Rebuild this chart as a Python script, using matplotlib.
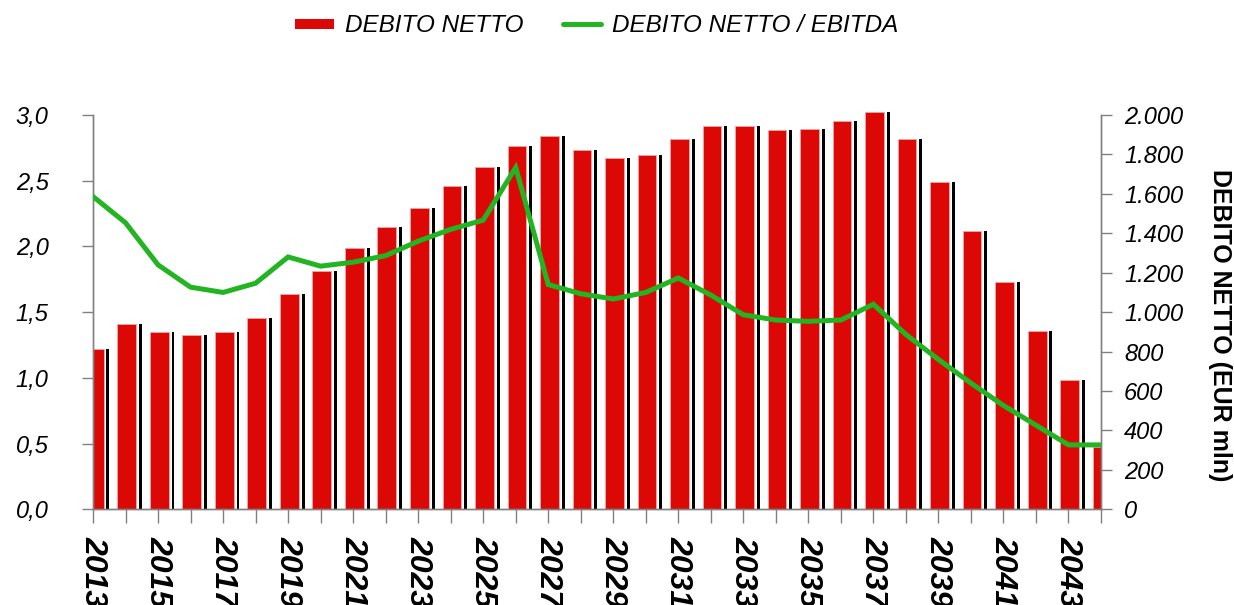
import numpy as np
import matplotlib
matplotlib.use("Agg")
import matplotlib.pyplot as plt
from matplotlib.lines import Line2D
from matplotlib.patches import Rectangle
from matplotlib.ticker import FixedLocator, FuncFormatter

plt.rcParams["font.family"] = ["Liberation Sans", "DejaVu Sans"]

# Net debt (EUR mln) and net debt / EBITDA, 2013-2044
years = list(range(2013, 2045))
net_debt = [811, 938, 898, 883, 898, 969, 1092, 1209, 1325, 1432, 1527, 1641,
            1735, 1844, 1893, 1821, 1780, 1797, 1877, 1946, 1946, 1922, 1929,
            1970, 2017, 1877, 1660, 1410, 1153, 906, 656, 316]
debt_ebitda = [2.38, 2.18, 1.86, 1.69, 1.65, 1.72, 1.92, 1.85, 1.88, 1.93,
               2.04, 2.13, 2.20, 2.60, 1.71, 1.64, 1.60, 1.65, 1.76, 1.63,
               1.48, 1.44, 1.43, 1.44, 1.56, 1.33, 1.14, 0.96, 0.79, 0.64,
               0.49, 0.49]
left_ticks = [0.0, 0.5, 1.0, 1.5, 2.0, 2.5, 3.0]
right_ticks = [0, 200, 400, 600, 800, 1000, 1200, 1400, 1600, 1800, 2000]

RED = "#DC0806"
GREEN = "#22B422"
GREY = "#808080"

fig = plt.figure(figsize=(12.34, 6.05), dpi=100)
ax = fig.add_axes([93 / 1234, 1 - 509.3 / 605, (1101 - 93) / 1234, (509.3 - 115) / 605])
ax2 = ax.twinx()

x = np.arange(len(years))

# bars on the right-hand scale, allowed to poke slightly above the top
clip = Rectangle((0, -0.05), 1, 1.1, transform=ax2.transAxes)
red_bars = ax2.bar(x + 0.037, net_debt, width=0.575, color=RED,
                   edgecolor="#F2A6A6", linewidth=0.6, zorder=2)
black_bars = ax2.bar(x + 0.46, net_debt, width=0.09, color="black",
                     linewidth=0, zorder=2)
for p in list(red_bars) + list(black_bars):
    p.set_clip_path(clip)

# ratio line on the left-hand scale, drawn above the bars
ax.plot(x, debt_ebitda, color=GREEN, lw=3.6, solid_joinstyle="miter", zorder=3)
ax.set_zorder(ax2.get_zorder() + 1)
ax.patch.set_visible(False)

ax.set_xlim(0, len(years) - 1)
ax.set_ylim(0, 3.0)
ax2.set_ylim(0, 2000)

# axes styling
for a in (ax, ax2):
    a.spines["top"].set_visible(False)
    for s in ("left", "right", "bottom"):
        a.spines[s].set_color(GREY)
        a.spines[s].set_linewidth(1.0)

ax.xaxis.set_major_locator(FixedLocator(x))
ax.set_xticklabels([str(y) if i % 2 == 0 else "" for i, y in enumerate(years)],
                   rotation=270, fontsize=23, fontweight="bold", style="italic")
ax.tick_params(axis="x", length=10, width=1, color=GREY, pad=9)

ax.yaxis.set_major_locator(FixedLocator(left_ticks))
ax.yaxis.set_major_formatter(FuncFormatter(lambda v, p: f"{v:.1f}".replace(".", ",")))
ax.tick_params(axis="y", length=8, width=1, color=GREY, pad=24, labelsize=17)
for t in ax.get_yticklabels():
    t.set_style("italic")

ax2.yaxis.set_major_locator(FixedLocator(right_ticks))
ax2.yaxis.set_major_formatter(FuncFormatter(lambda v, p: f"{int(v):,}".replace(",", ".")))
ax2.tick_params(axis="y", length=8, width=1, color=GREY, pad=8.5, labelsize=17)
for t in ax2.get_yticklabels():
    t.set_style("italic")

fig.text(1220 / 1234, 1 - 325 / 605, "DEBITO NETTO (EUR mln)", rotation=270,
         ha="center", va="center", fontsize=18, fontweight="bold")

handles = [Line2D([], [], color=RED, lw=7.2, solid_capstyle="butt"),
           Line2D([], [], color=GREEN, lw=3.6, solid_capstyle="round")]
fig.legend(handles, ["DEBITO NETTO", "DEBITO NETTO / EBITDA"], loc="center",
           bbox_to_anchor=(597 / 1234, 1 - 26 / 605), ncol=2, frameon=False,
           prop={"size": 17.5, "style": "italic"}, handlelength=1.6,
           handletextpad=0.45, columnspacing=1.6)

fig.savefig("out.png", dpi=100)
